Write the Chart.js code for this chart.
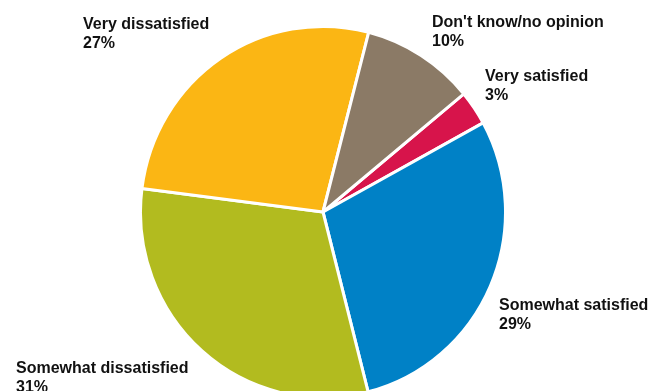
<!DOCTYPE html>
<html lang="en">
<head>
    <meta charset="UTF-8">
    <title>Satisfaction</title>
    <script src="https://cdn.jsdelivr.net/npm/chart.js"></script>
    <style>
        html, body {
            margin: 0;
            padding: 0;
            background: #fff;
            overflow: hidden;
        }
        #wrap {
            width: 652px;
            height: 391px;
        }
    </style>
</head>
<body>
    <div id="wrap"><canvas id="pieChart" width="652" height="391"></canvas></div>

    <script>
        // Data
        const categories = ['Very satisfied', 'Somewhat satisfied', 'Somewhat dissatisfied', 'Very dissatisfied', "Don't know/no opinion"];
        const shares = [3, 29, 31, 27, 10];
        const sliceColors = ['#D7144B', '#0081C6', '#B2BB1F', '#FBB614', '#8B7A66'];

        // Label placement (left x, first-line baseline y), one per category
        const labelPos = [
            [485, 81],
            [499, 310],
            [16, 373],
            [83, 29],
            [432, 27]
        ];

        // the original pie is a touch taller than it is wide
        const stretchY = 1.017;

        const pieStretch = {
            id: 'pieStretch',
            beforeDatasetsDraw(chart) {
                const { ctx, chartArea } = chart;
                const cx = (chartArea.left + chartArea.right) / 2;
                const cy = (chartArea.top + chartArea.bottom) / 2;
                ctx.save();
                ctx.translate(cx, cy);
                ctx.scale(1, stretchY);
                ctx.translate(-cx, -cy);
            },
            afterDatasetsDraw(chart) {
                chart.ctx.restore();
            }
        };

        const pieLabels = {
            id: 'pieLabels',
            afterDraw(chart) {
                const ctx = chart.ctx;
                const values = chart.data.datasets[0].data;
                ctx.save();
                ctx.fillStyle = '#111';
                ctx.font = 'bold 16px "Liberation Sans", Arial, sans-serif';
                ctx.textAlign = 'left';
                ctx.textBaseline = 'alphabetic';
                chart.data.labels.forEach((label, i) => {
                    const [x, y] = labelPos[i];
                    ctx.fillText(label, x, y);
                    ctx.fillText(values[i] + '%', x, y + 18.5);
                });
                ctx.restore();
            }
        };

        new Chart(document.getElementById('pieChart'), {
            type: 'pie',
            data: {
                labels: categories,
                datasets: [{
                    data: shares,
                    backgroundColor: sliceColors,
                    borderColor: '#fff',
                    borderWidth: 3,
                    radius: 182.5
                }]
            },
            options: {
                responsive: false,
                animation: false,
                rotation: 50.5,
                layout: {
                    padding: { top: 33, right: 6, left: 0, bottom: 0 }
                },
                plugins: {
                    legend: { display: false },
                    tooltip: { enabled: false }
                }
            },
            plugins: [pieStretch, pieLabels]
        });
    </script>
</body>
</html>
